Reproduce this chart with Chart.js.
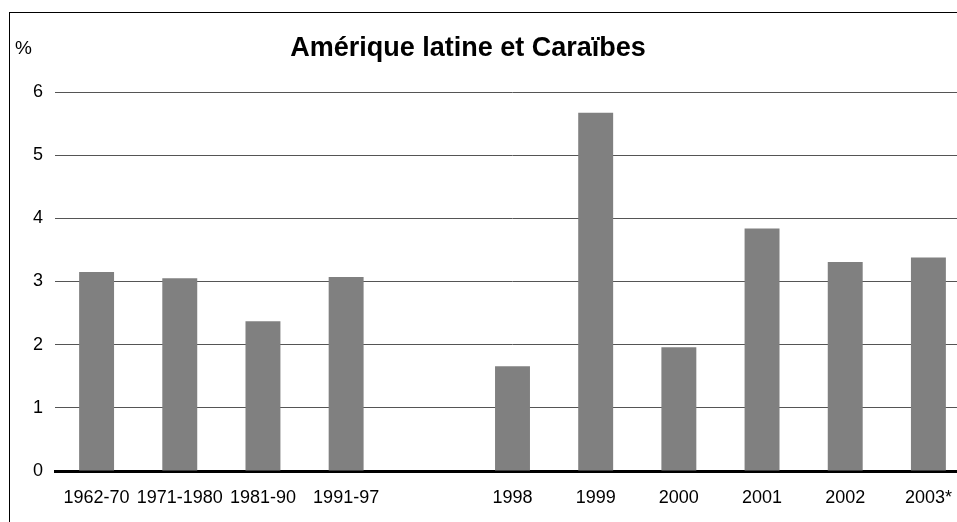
<!DOCTYPE html>
<html>
<head>
<meta charset="utf-8">
<script src="https://cdn.jsdelivr.net/npm/chart.js@4"></script>
<style>
  html, body { margin: 0; padding: 0; background: #fff; overflow: hidden; }
  #frame { position: absolute; left: 9px; top: 12px; width: 1000px; height: 600px; border: 1px solid #000; }
  #wrap { position: absolute; left: 0; top: 0; width: 980px; height: 522px; }
</style>
</head>
<body>
<div id="frame"></div>
<div id="wrap"><canvas id="chart" width="980" height="522"></canvas></div>
<script>
// periods (one blank slot separates the averages from the single years)
const periods = ['1962-70', '1971-1980', '1981-90', '1991-97', '', '1998', '1999', '2000', '2001', '2002', '2003*'];
const growth = [3.15, 3.05, 2.37, 3.07, null, 1.66, 5.67, 1.96, 3.84, 3.31, 3.38];
const yTicks = [0, 1, 2, 3, 4, 5, 6];
const chartTitle = 'Amérique latine et Caraïbes';
const unitLabel = '%';

const FONT = 'Arial, "Liberation Sans", sans-serif';

// title and unit drawn at their own spots, like the original figure
const headerText = {
    id: 'headerText',
    afterDraw(chart) {
        const ctx = chart.ctx;
        ctx.save();
        ctx.fillStyle = '#000';
        ctx.textBaseline = 'alphabetic';
        ctx.font = 'bold 27px ' + FONT;
        ctx.textAlign = 'center';
        ctx.fillText(chartTitle, 468, 56);
        ctx.font = '19px ' + FONT;
        ctx.textAlign = 'left';
        ctx.fillText(unitLabel, 15, 54);
        ctx.restore();
    }
};

const ctx = document.getElementById('chart').getContext('2d');
new Chart(ctx, {
    type: 'bar',
    data: {
        labels: periods,
        datasets: [{
            data: growth,
            backgroundColor: '#808080',
            borderWidth: 0,
            barPercentage: 0.42,
            categoryPercentage: 1.0
        }]
    },
    options: {
        responsive: false,
        animation: false,
        layout: { padding: { left: 0, right: 10, top: 92, bottom: 0 } },
        plugins: {
            legend: { display: false },
            title: { display: false },
            tooltip: { enabled: false }
        },
        scales: {
            x: {
                grid: { display: false, drawTicks: false },
                border: { display: true, color: '#000', width: 3 },
                ticks: {
                    color: '#000',
                    font: { family: FONT, size: 18 },
                    padding: 16,
                    autoSkip: false,
                    maxRotation: 0,
                    minRotation: 0
                },
                afterFit(scale) { scale.height = 51; }
            },
            y: {
                min: 0,
                max: 6,
                afterBuildTicks(scale) { scale.ticks = yTicks.map(v => ({ value: v })); },
                grid: { color: '#555', lineWidth: 1, drawTicks: false },
                border: { display: false },
                ticks: {
                    color: '#000',
                    font: { family: FONT, size: 18 },
                    padding: 12
                },
                afterFit(scale) { scale.width = 55; }
            }
        }
    },
    plugins: [headerText]
});
</script>
</body>
</html>
